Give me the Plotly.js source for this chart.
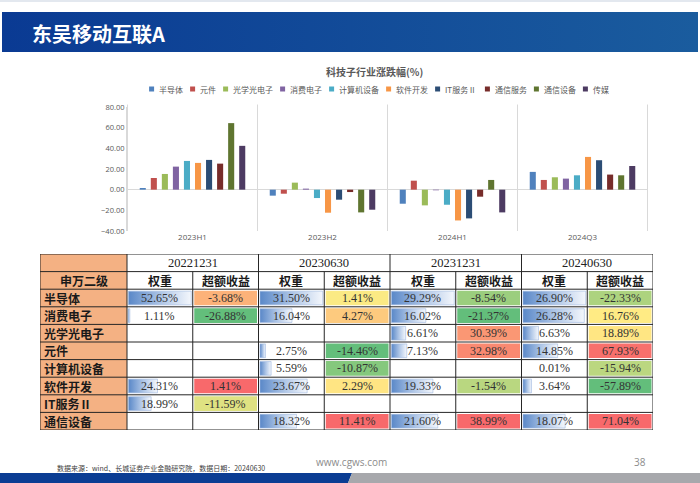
<!DOCTYPE html>
<html><head><meta charset="utf-8">
<script src="https://cdn.plot.ly/plotly-3.0.1.min.js"></script>
<style>html,body{margin:0;padding:0;background:#fff;}#chart{width:700px;height:483px;}</style>
</head><body><div id="chart"></div>
<script>
// ---------------- DATA ----------------
const periods = ['2023H1', '2023H2', '2024H1', '2024Q3'];
const sectors = ['半导体', '元件', '光学光电子', '消费电子', '计算机设备', '软件开发', 'IT服务Ⅱ', '通信服务', '通信设备', '传媒'];
const chgSemiconductor = [1.6, -5.8, -13.6, 17.2];
const chgComponents    = [11.3, -3.9, 8.7, 9.4];
const chgOptoelec      = [15.2, 6.8, -15.2, 12.0];
const chgConsumerElec  = [22.3, 1.0, -0.6, 10.7];
const chgComputerEquip = [27.8, -8.1, -14.6, 13.9];
const chgSoftware      = [25.9, -22.3, -29.8, 31.7];
const chgITService     = [28.8, -9.7, -27.8, 28.5];
const chgTelecomServ   = [25.2, -2.3, -6.8, 14.6];
const chgTelecomEquip  = [64.4, -22.0, 9.4, 13.9];
const chgMedia         = [42.4, -19.4, -22.0, 22.9];
const sectorSeries = [chgSemiconductor, chgComponents, chgOptoelec, chgConsumerElec, chgComputerEquip,
                      chgSoftware, chgITService, chgTelecomServ, chgTelecomEquip, chgMedia];

const tableRows  = ['半导体', '消费电子', '光学光电子', '元件', '计算机设备', '软件开发', 'IT服务Ⅱ', '通信设备'];
const tableDates = ['20221231', '20230630', '20231231', '20240630'];
const weight20221231 = [52.65, 1.11, null, null, null, 24.31, 18.99, null];
const excess20221231 = [-3.68, -26.88, null, null, null, 1.41, -11.59, null];
const weight20230630 = [31.50, 16.04, null, 2.75, 5.59, 23.67, null, 18.32];
const excess20230630 = [1.41, 4.27, null, -14.46, -10.87, 2.29, null, 11.41];
const weight20231231 = [29.29, 16.02, 6.61, 7.13, null, 19.33, null, 21.60];
const excess20231231 = [-8.54, -21.37, 30.39, 32.98, null, -1.54, null, 38.99];
const weight20240630 = [26.90, 26.28, 6.63, 14.85, 0.01, 3.64, null, 18.07];
const excess20240630 = [-22.33, 16.76, 18.89, 67.93, -15.94, -57.89, null, 71.04];
const weightCols = [weight20221231, weight20230630, weight20231231, weight20240630];
const excessCols = [excess20221231, excess20230630, excess20231231, excess20240630];

// ---------------- STYLE ----------------
const seriesColors = ['#4f81bd', '#c0504d', '#9bbb59', '#8064a2', '#4bacc6', '#f79646', '#2c4d75', '#772c2a', '#5f7530', '#4d3b62'];
const CJK = '"Noto Sans CJK SC", sans-serif';
const SERIF = '"Liberation Serif", "DejaVu Serif", serif';
const SANS = '"Open Sans", "Liberation Sans", sans-serif';
const W = 700, H = 483;
const chartBox = {l: 127, r: 648, t: 107, b: 231};
const tableBox = {l: 40, r: 653, t: 254, b: 430};
const labelW = 87 / 65.75;  // label column width in data-column units
const nTableRows = tableRows.length + 2;

const traces = [];
const shapes = [];
const annotations = [];

// ---------------- BAR CHART ----------------
sectors.forEach((s, i) => {
  traces.push({type: 'bar', name: s, x: periods, y: sectorSeries[i], xaxis: 'x', yaxis: 'y',
    marker: {color: seriesColors[i]}, showlegend: false, hoverinfo: 'skip'});
});
for (let k = 0; k <= periods.length; k++) {
  shapes.push({type: 'line', xref: 'x', yref: 'y domain', x0: k - 0.5, x1: k - 0.5, y0: 0, y1: 1.02,
    line: {color: '#d9d9d9', width: 1}, layer: 'below'});
}
annotations.push({xref: 'x3', yref: 'y3', x: 374, y: 71, text: '科技子行业涨跌幅(%)', showarrow: false,
  font: {family: CJK, size: 10, color: '#595959', weight: 700}});

// manual legend
function textWidth(str, fs) { let w = 0; for (const ch of str) w += /[\x00-\x7f]/.test(ch) ? fs * 0.55 : fs; return w; }
const legFs = 8, legMarker = 5, legGap = 3, legSpacing = 9, legY = 89, legCenter = 378;
const legWidths = sectors.map(s => legMarker + legGap + textWidth(s, legFs));
const legTotal = legWidths.reduce((a, b) => a + b, 0) + legSpacing * (sectors.length - 1);
let lx = legCenter - legTotal / 2;
const legMX = [];
sectors.forEach((s, i) => {
  legMX.push(lx + legMarker / 2);
  annotations.push({xref: 'x3', yref: 'y3', x: lx + legMarker + legGap, y: legY, xanchor: 'left', text: s,
    showarrow: false, font: {family: CJK, size: legFs, color: '#595959'}});
  lx += legWidths[i] + legSpacing;
});
traces.push({type: 'scatter', mode: 'markers', x: legMX, y: sectors.map(() => legY), xaxis: 'x3', yaxis: 'y3',
  marker: {symbol: 'square', size: legMarker, color: seriesColors}, showlegend: false, hoverinfo: 'skip'});

// ---------------- TABLE ----------------
function pct50(vals) {
  const s = vals.slice().sort((a, b) => a - b);
  const rank = 0.5 * (s.length - 1), lo = Math.floor(rank), hi = Math.ceil(rank);
  return s[lo] + (s[hi] - s[lo]) * (rank - lo);
}
function mix(c1, c2, t) {
  return 'rgb(' + c1.map((v, k) => Math.round(v + (c2[k] - v) * t)).join(',') + ')';
}
const cMin = [99, 190, 123], cMid = [255, 235, 132], cMax = [248, 105, 107];
function scaleColor(v, vals) {
  const mn = Math.min(...vals), mx = Math.max(...vals), md = pct50(vals);
  if (v <= md) return mix(cMin, cMid, md === mn ? 1 : (v - mn) / (md - mn));
  return mix(cMid, cMax, mx === md ? 1 : (v - md) / (mx - md));
}
const padX = 1.5 / 65.75, padY = 1.5 / 17.6;
const numFont = {family: SERIF, size: 12, color: '#333'};
const boldCJK = {family: CJK, size: 12, color: '#1a1a1a', weight: 700};
shapes.push({type: 'rect', xref: 'x2', yref: 'y2', x0: -labelW, x1: 0, y0: 0, y1: nTableRows,
  fillcolor: '#f4b183', line: {width: 0}, layer: 'below'});
excessCols.forEach((col, c) => {
  const vals = col.filter(v => v !== null);
  col.forEach((v, r) => {
    if (v === null) return;
    shapes.push({type: 'rect', xref: 'x2', yref: 'y2', x0: 2 * c + 1 + padX, x1: 2 * c + 2 - padX,
      y0: r + 2 + padY, y1: r + 3 - padY, fillcolor: scaleColor(v, vals), line: {width: 0}, layer: 'below'});
    annotations.push({xref: 'x2', yref: 'y2', x: 2 * c + 1.5, y: r + 2.5, text: v.toFixed(2) + '%',
      showarrow: false, font: numFont});
  });
});
weightCols.forEach((col, c) => {
  const mx = Math.max(...col.filter(v => v !== null));
  col.forEach((v, r) => {
    if (v === null) return;
    const x0 = 2 * c + padX, x1 = x0 + (v / mx) * (1 - 2 * padX);
    const y0 = r + 2 + padY * 1.3, y1 = r + 3 - padY * 1.3;
    if (x1 - x0 > 0.002) {
      traces.push({type: 'scatter', mode: 'lines', xaxis: 'x2', yaxis: 'y2',
        x: [x0, x1, x1, x0, x0], y: [y0, y0, y1, y1, y0], fill: 'toself',
        fillcolor: '#a8c0e4',
        fillgradient: {type: 'horizontal', colorscale: [[0, '#5a88c8'], [0.55, '#b3c9e8'], [1, '#f4f7fc']], start: x0, stop: x1},
        line: {color: '#9db7df', width: 0.6}, showlegend: false, hoverinfo: 'skip'});
    }
    annotations.push({xref: 'x2', yref: 'y2', x: 2 * c + 0.5, y: r + 2.5, text: v.toFixed(2) + '%',
      showarrow: false, font: numFont});
  });
});
tableDates.forEach((d, c) => {
  annotations.push({xref: 'x2', yref: 'y2', x: 2 * c + 1, y: 0.5, text: d, showarrow: false,
    font: {family: SERIF, size: 12.5, color: '#222'}});
  annotations.push({xref: 'x2', yref: 'y2', x: 2 * c + 0.5, y: 1.5, text: '权重', showarrow: false, font: boldCJK});
  annotations.push({xref: 'x2', yref: 'y2', x: 2 * c + 1.5, y: 1.5, text: '超额收益', showarrow: false, font: boldCJK});
});
annotations.push({xref: 'x2', yref: 'y2', x: -labelW / 2, y: 1.5, text: '申万二级', showarrow: false, font: boldCJK});
tableRows.forEach((name, r) => {
  annotations.push({xref: 'x2', yref: 'y2', x: -labelW + 0.03, y: r + 2.5, xanchor: 'left', text: name,
    showarrow: false, font: boldCJK});
});
const gridLine = {color: '#262626', width: 1};
for (let r = 0; r <= nTableRows; r++) {
  shapes.push({type: 'line', xref: 'x2', yref: 'y2', x0: -labelW, x1: 8, y0: r, y1: r, line: gridLine});
}
shapes.push({type: 'line', xref: 'x2', yref: 'y2', x0: -labelW, x1: -labelW, y0: 0, y1: nTableRows, line: gridLine});
for (let k = 0; k <= 8; k++) {
  shapes.push({type: 'line', xref: 'x2', yref: 'y2', x0: k, x1: k, y0: (k % 2 === 1) ? 1 : 0, y1: nTableRows, line: gridLine});
}

// ---------------- PAGE DECORATION ----------------
traces.push({type: 'scatter', mode: 'lines', xaxis: 'x3', yaxis: 'y3', x: [2, 698, 698, 2, 2], y: [12, 12, 52, 52, 12],
  fill: 'toself', fillcolor: '#0d4596', fillgradient: {type: 'horizontal', colorscale: [[0, '#0a3a93'], [1, '#1a5c9e']], start: 2, stop: 698},
  line: {width: 0}, showlegend: false, hoverinfo: 'skip'});
shapes.push({type: 'line', xref: 'x3', yref: 'y3', x0: 0, x1: 700, y0: 1, y1: 1, line: {color: '#e3e8ef', width: 2}});
traces.push({type: 'scatter', mode: 'lines', xaxis: 'x3', yaxis: 'y3', x: [0, 352, 348, 0, 0], y: [473, 473, 483, 483, 473],
  fill: 'toself', fillcolor: '#0b3d93', line: {width: 0}, showlegend: false, hoverinfo: 'skip'});
traces.push({type: 'scatter', mode: 'lines', xaxis: 'x3', yaxis: 'y3', x: [352, 700, 700, 348, 352], y: [473, 473, 483, 483, 473],
  fill: 'toself', fillcolor: '#a7a8ac', line: {width: 0}, showlegend: false, hoverinfo: 'skip'});
annotations.push({xref: 'x3', yref: 'y3', x: 30, y: 33, xanchor: 'left', text: '东吴移动互联A', showarrow: false,
  font: {family: CJK, size: 20, color: '#ffffff', weight: 700}});
annotations.push({xref: 'x3', yref: 'y3', x: 55, y: 468, xanchor: 'left', text: '数据来源：wind、长城证券产业金融研究院，数据日期：20240630',
  showarrow: false, font: {family: CJK, size: 7, color: '#404040'}});
annotations.push({xref: 'x3', yref: 'y3', x: 351, y: 462, text: 'www.cgws.com', showarrow: false,
  font: {family: SANS, size: 10, color: '#8c8c8c'}});
annotations.push({xref: 'x3', yref: 'y3', x: 640, y: 462, text: '38', showarrow: false,
  font: {family: SANS, size: 10, color: '#8c8c8c'}});

const layout = {
  width: W, height: H, margin: {l: 0, r: 0, t: 0, b: 0},
  paper_bgcolor: '#ffffff', plot_bgcolor: 'rgba(0,0,0,0)',
  barmode: 'group', bargap: 0.15, bargroupgap: 0.45,
  xaxis: {domain: [chartBox.l / W, chartBox.r / W], anchor: 'y', type: 'category', showgrid: false, zeroline: false,
    showline: false, ticks: '', tickfont: {family: SANS, size: 8, color: '#595959'}, fixedrange: true},
  yaxis: {domain: [1 - chartBox.b / H, 1 - chartBox.t / H], anchor: 'x', range: [-40, 80], dtick: 20, tickformat: '.2f',
    showgrid: false, zeroline: true, zerolinecolor: '#d9d9d9', zerolinewidth: 1, showline: true, linecolor: '#d9d9d9',
    ticks: '', tickfont: {family: SANS, size: 7.5, color: '#595959'}, fixedrange: true},
  xaxis2: {domain: [tableBox.l / W, tableBox.r / W], anchor: 'y2', range: [-labelW, 8], visible: false, fixedrange: true},
  yaxis2: {domain: [1 - tableBox.b / H, 1 - tableBox.t / H], anchor: 'x2', range: [nTableRows, 0], visible: false, fixedrange: true},
  xaxis3: {domain: [0, 1], anchor: 'y3', range: [0, W], visible: false, fixedrange: true},
  yaxis3: {domain: [0, 1], anchor: 'x3', range: [H, 0], visible: false, fixedrange: true},
  shapes: shapes, annotations: annotations, showlegend: false
};
Plotly.newPlot('chart', traces, layout, {displayModeBar: false, staticPlot: true});
</script></body></html>
